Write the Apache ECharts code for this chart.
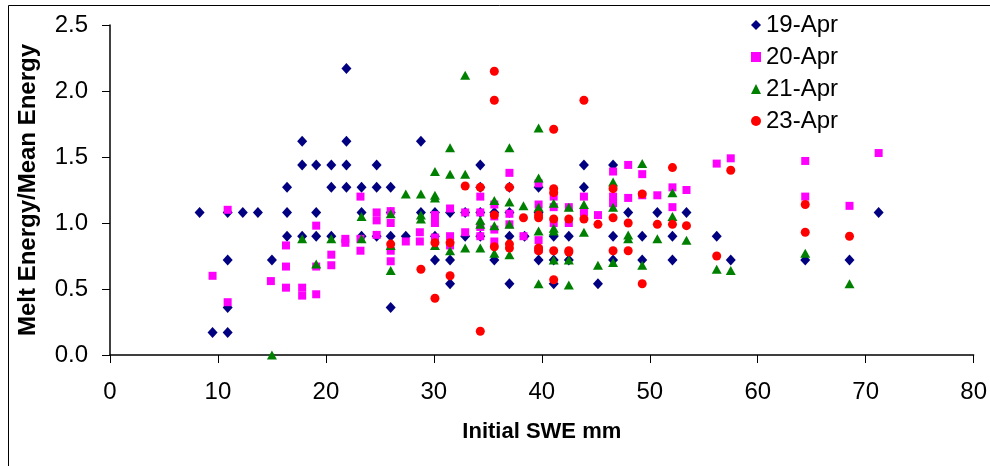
<!DOCTYPE html>
<html>
<head>
<meta charset="utf-8">
<style type="text/css">
html, body { margin: 0; padding: 0; background: #fff; }
#chart { width: 990px; height: 466px; }
</style>
<script type="text/javascript" src="https://cdn.jsdelivr.net/npm/echarts@6/dist/echarts.min.js"></script>
</head>
<body>
<div id="chart"></div>
<script type="text/javascript">
// series names, one per date
var dates = ['19-Apr', '20-Apr', '21-Apr', '23-Apr'];

// [initial SWE mm, melt energy / mean energy]
var apr19 = [
	[8.3,1.08],[9.5,0.17],[10.9,1.08],[10.9,0.72],[10.9,0.36],[10.9,0.17],[12.3,1.08],[13.7,1.08],[15.0,0.72],
	[16.4,1.27],[16.4,1.08],[16.4,0.90],[17.8,1.62],[17.8,1.44],[17.8,0.90],
	[19.1,1.44],[19.1,1.08],[19.1,0.90],[20.5,1.44],[20.5,1.27],[20.5,0.90],
	[21.9,2.17],[21.9,1.62],[21.9,1.44],[21.9,1.27],[23.3,1.27],[23.3,1.08],[23.3,0.90],
	[24.7,1.44],[24.7,1.27],[24.7,0.90],[26.0,1.27],[26.0,1.08],[26.0,0.90],[26.0,0.36],
	[27.4,0.90],[28.8,1.62],[28.8,1.08],[30.1,1.08],[30.1,0.90],[30.1,0.72],
	[31.5,1.08],[31.5,0.72],[31.5,0.54],[32.9,1.08],[32.9,0.90],
	[34.3,1.44],[34.3,1.27],[34.3,1.08],[34.3,0.90],[35.6,1.08],[35.6,0.72],
	[37.0,1.27],[37.0,1.08],[37.0,0.90],[37.0,0.54],[38.4,0.90],
	[39.7,1.27],[39.7,1.08],[39.7,0.72],[41.1,0.90],[41.1,0.72],[41.1,0.54],
	[42.5,0.90],[42.5,0.72],[43.9,1.44],[43.9,1.27],[45.2,0.54],
	[46.6,1.44],[46.6,0.90],[46.6,0.72],[48.0,1.08],[49.3,0.90],[49.3,0.72],
	[50.7,1.08],[52.1,0.90],[52.1,0.72],[53.4,1.08],[56.2,0.90],[57.5,0.72],
	[64.4,0.72],[68.5,0.72],[71.2,1.08]
];
var apr20 = [
	[9.5,0.60],[10.9,1.10],[10.9,0.40],[14.9,0.56],
	[16.3,0.83],[16.3,0.67],[16.3,0.51],[17.8,0.51],[17.8,0.45],
	[19.1,0.98],[19.1,0.67],[19.1,0.46],[20.5,0.76],[20.5,0.68],
	[21.8,0.88],[21.8,0.85],[23.2,1.20],[23.2,0.88],[23.2,0.79],
	[24.7,1.08],[24.7,1.02],[24.7,0.91],[26.0,1.09],[26.0,1.00],[26.0,0.79],[26.0,0.71],
	[27.4,0.86],[28.7,0.93],[28.7,0.86],[30.1,1.06],[30.1,1.00],[30.1,0.89],
	[31.5,1.11],[31.5,0.90],[31.5,0.83],[32.9,1.08],[32.9,0.93],
	[34.3,1.20],[34.3,1.08],[34.3,0.97],[34.3,0.90],
	[35.6,1.14],[35.6,1.05],[35.6,0.95],[35.6,0.86],
	[37.0,1.38],[37.0,1.07],[37.0,0.99],[38.3,0.90],
	[39.7,1.30],[39.7,1.14],[39.7,0.87],[39.7,0.80],
	[41.1,1.20],[41.1,1.12],[41.1,1.00],[42.5,1.12],[42.5,1.00],
	[43.9,1.20],[43.9,1.08],[45.2,1.06],[46.6,1.39],[46.6,1.20],[46.6,1.15],
	[48.0,1.44],[48.0,1.19],[49.3,1.37],[49.3,1.21],[50.7,1.21],
	[52.1,1.27],[52.1,1.12],[53.4,1.25],[56.2,1.45],[57.5,1.49],
	[64.4,1.47],[64.4,1.20],[68.5,1.13],[71.2,1.53]
];
var apr21 = [
	[15.0,0.00],[17.8,0.88],[19.1,0.69],[20.5,0.88],[23.3,1.05],[23.3,0.88],
	[26.0,1.07],[26.0,0.83],[26.0,0.64],[27.4,1.22],
	[28.8,1.22],[28.8,1.06],[28.8,1.03],[30.1,1.39],[30.1,1.21],[30.1,1.19],[30.1,0.83],
	[31.5,1.57],[31.5,1.37],[31.5,0.79],[32.9,2.12],[32.9,1.37],[32.9,0.81],
	[34.3,1.02],[34.3,0.99],[34.3,0.81],[35.6,1.17],[35.6,0.98],[35.6,0.77],
	[37.0,1.57],[37.0,1.16],[37.0,0.99],[37.0,0.76],[38.3,1.13],
	[39.7,1.72],[39.7,1.34],[39.7,1.12],[39.7,0.94],[39.7,0.54],
	[41.1,1.15],[41.1,0.96],[41.1,0.94],[41.1,0.72],[42.5,1.12],[42.5,0.72],[42.5,0.53],
	[43.9,1.14],[43.9,0.93],[45.2,0.68],[46.6,1.31],[46.6,1.12],[46.6,0.70],
	[48.0,0.91],[48.0,0.88],[49.3,1.45],[49.3,0.68],[50.7,0.88],
	[52.1,1.23],[52.1,1.05],[53.4,0.87],[56.2,0.65],[57.5,0.64],
	[64.4,0.77],[68.5,0.54]
];
var apr23 = [
	[26.0,0.84],[28.8,0.65],[30.1,0.85],[30.1,0.43],[31.5,0.85],[31.5,0.60],
	[32.9,1.28],[34.3,1.27],[34.3,0.18],
	[35.6,2.15],[35.6,1.93],[35.6,1.06],[35.6,0.82],[37.0,1.27],[37.0,0.84],[37.0,0.81],
	[38.3,1.04],[39.7,1.06],[39.7,1.04],[39.7,0.81],[39.7,0.79],
	[41.1,1.71],[41.1,1.26],[41.1,1.23],[41.1,1.03],[41.1,0.79],[41.1,0.57],
	[42.5,1.03],[42.5,0.79],[42.5,0.78],[43.9,1.93],[43.9,1.03],[45.2,0.99],
	[46.6,1.26],[46.6,1.04],[46.6,0.79],[48.0,1.00],[48.0,0.79],
	[49.3,1.22],[49.3,0.54],[50.7,0.99],[52.1,1.42],[52.1,0.99],[53.4,0.98],
	[56.2,0.75],[57.5,1.40],[64.4,1.14],[64.4,0.93],[68.5,0.90]
];

var font = '"Liberation Sans", Arial, sans-serif';
var chart = echarts.init(document.getElementById('chart'));

function dots(name, data, symbol, size, color) {
	return {
		name: name,
		type: 'scatter',
		data: data,
		symbol: symbol,
		symbolSize: size,
		itemStyle: { color: color, opacity: 1 },
		emphasis: { disabled: true },
		animation: false
	};
}

chart.setOption({
	animation: false,
	textStyle: { fontFamily: font, color: '#000' },
	graphic: [{
		type: 'rect',
		shape: { x: 8.5, y: 5.5, width: 1000, height: 500 },
		style: { fill: 'none', stroke: '#000', lineWidth: 1 },
		silent: true
	}],
	grid: { left: 110, right: 15, top: 25, bottom: 111 },
	legend: {
		orient: 'vertical',
		left: 746,
		top: 8,
		itemWidth: 10,
		itemHeight: 10,
		itemGap: 8,
		textStyle: { fontSize: 24, lineHeight: 22, fontFamily: font, color: '#000' },
		data: [
			{ name: dates[0], icon: 'diamond' },
			{ name: dates[1], icon: 'rect' },
			{ name: dates[2], icon: 'triangle' },
			{ name: dates[3], icon: 'circle' }
		]
	},
	xAxis: {
		type: 'value',
		min: 0, max: 80, interval: 10,
		name: 'Initial SWE mm',
		nameLocation: 'middle',
		nameGap: 66,
		nameTextStyle: { fontSize: 22, fontWeight: 'bold', fontFamily: font, color: '#000' },
		axisLine: { show: true, onZero: false, lineStyle: { color: '#000', width: 1.5 } },
		axisTick: { show: true, length: 8, lineStyle: { color: '#000' } },
		axisLabel: { fontSize: 24, margin: 25, color: '#000', fontFamily: font },
		splitLine: { show: false }
	},
	yAxis: {
		type: 'value',
		min: 0, max: 2.5, interval: 0.5,
		name: 'Melt Energy/Mean Energy',
		nameLocation: 'middle',
		nameGap: 70,
		nameTextStyle: { fontSize: 24, fontWeight: 'bold', fontFamily: font, color: '#000' },
		axisLine: { show: true, lineStyle: { color: '#000', width: 1.5 } },
		axisTick: { show: true, length: 8, lineStyle: { color: '#000' } },
		axisLabel: {
			fontSize: 24, margin: 22, color: '#000', fontFamily: font,
			padding: [3, 0, 0, 0],
			formatter: function (v) { return v.toFixed(1); }
		},
		splitLine: { show: false }
	},
	series: [
		dots(dates[0], apr19, 'diamond', [10, 11], '#000080'),
		dots(dates[1], apr20, 'rect', 8, '#FF00FF'),
		dots(dates[2], apr21, 'triangle', [10, 9], '#008000'),
		dots(dates[3], apr23, 'circle', 9, '#FF0000')
	]
});
</script>
</body>
</html>
